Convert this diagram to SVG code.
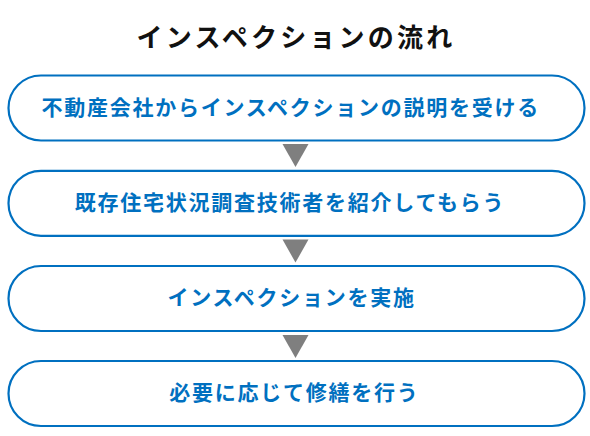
<svg xmlns="http://www.w3.org/2000/svg" width="590" height="436" viewBox="0 0 590 436">
<style>
.box{fill:#fff;stroke:#0070c0;stroke-width:2.2}
.lbl{font-family:"Noto Sans CJK JP","Noto Sans CJK SC",sans-serif;font-weight:bold;font-size:21px;fill:#0070c0;letter-spacing:1.75px}
.title{font-family:"Noto Sans CJK JP","Noto Sans CJK SC",sans-serif;font-weight:bold;font-size:26px;fill:#111;letter-spacing:3.2px}
.arr{fill:#7f7f7f}
</style>
<rect width="590" height="436" fill="#fff"/>
<text class="title" x="136.5" y="46.5">インスペクションの流れ</text>
<g id="connectors">
<polygon class="arr" points="282.5,144 308.5,144 295.5,167"/>
<polygon class="arr" points="282.5,239.5 308.5,239.5 295.5,262.5"/>
<polygon class="arr" points="282.5,335 308.5,335 295.5,358"/>
</g>
<g id="n1">
<rect class="box" x="8.5" y="75.5" width="576" height="65" rx="32.5"/>
<text class="lbl" x="41.5" y="114.6">不動産会社からインスペクションの説明を受ける</text>
</g>
<g id="n2">
<rect class="box" x="8.5" y="170.8" width="576" height="65" rx="32.5"/>
<text class="lbl" x="74.8" y="209.8">既存住宅状況調査技術者を紹介してもらう</text>
</g>
<g id="n3">
<rect class="box" x="8.5" y="266" width="576" height="65" rx="32.5"/>
<text class="lbl" x="167.5" y="305">インスペクションを実施</text>
</g>
<g id="n4">
<rect class="box" x="8.5" y="361" width="576" height="65" rx="32.5"/>
<text class="lbl" x="169.3" y="400.3">必要に応じて修繕を行う</text>
</g>
</svg>
